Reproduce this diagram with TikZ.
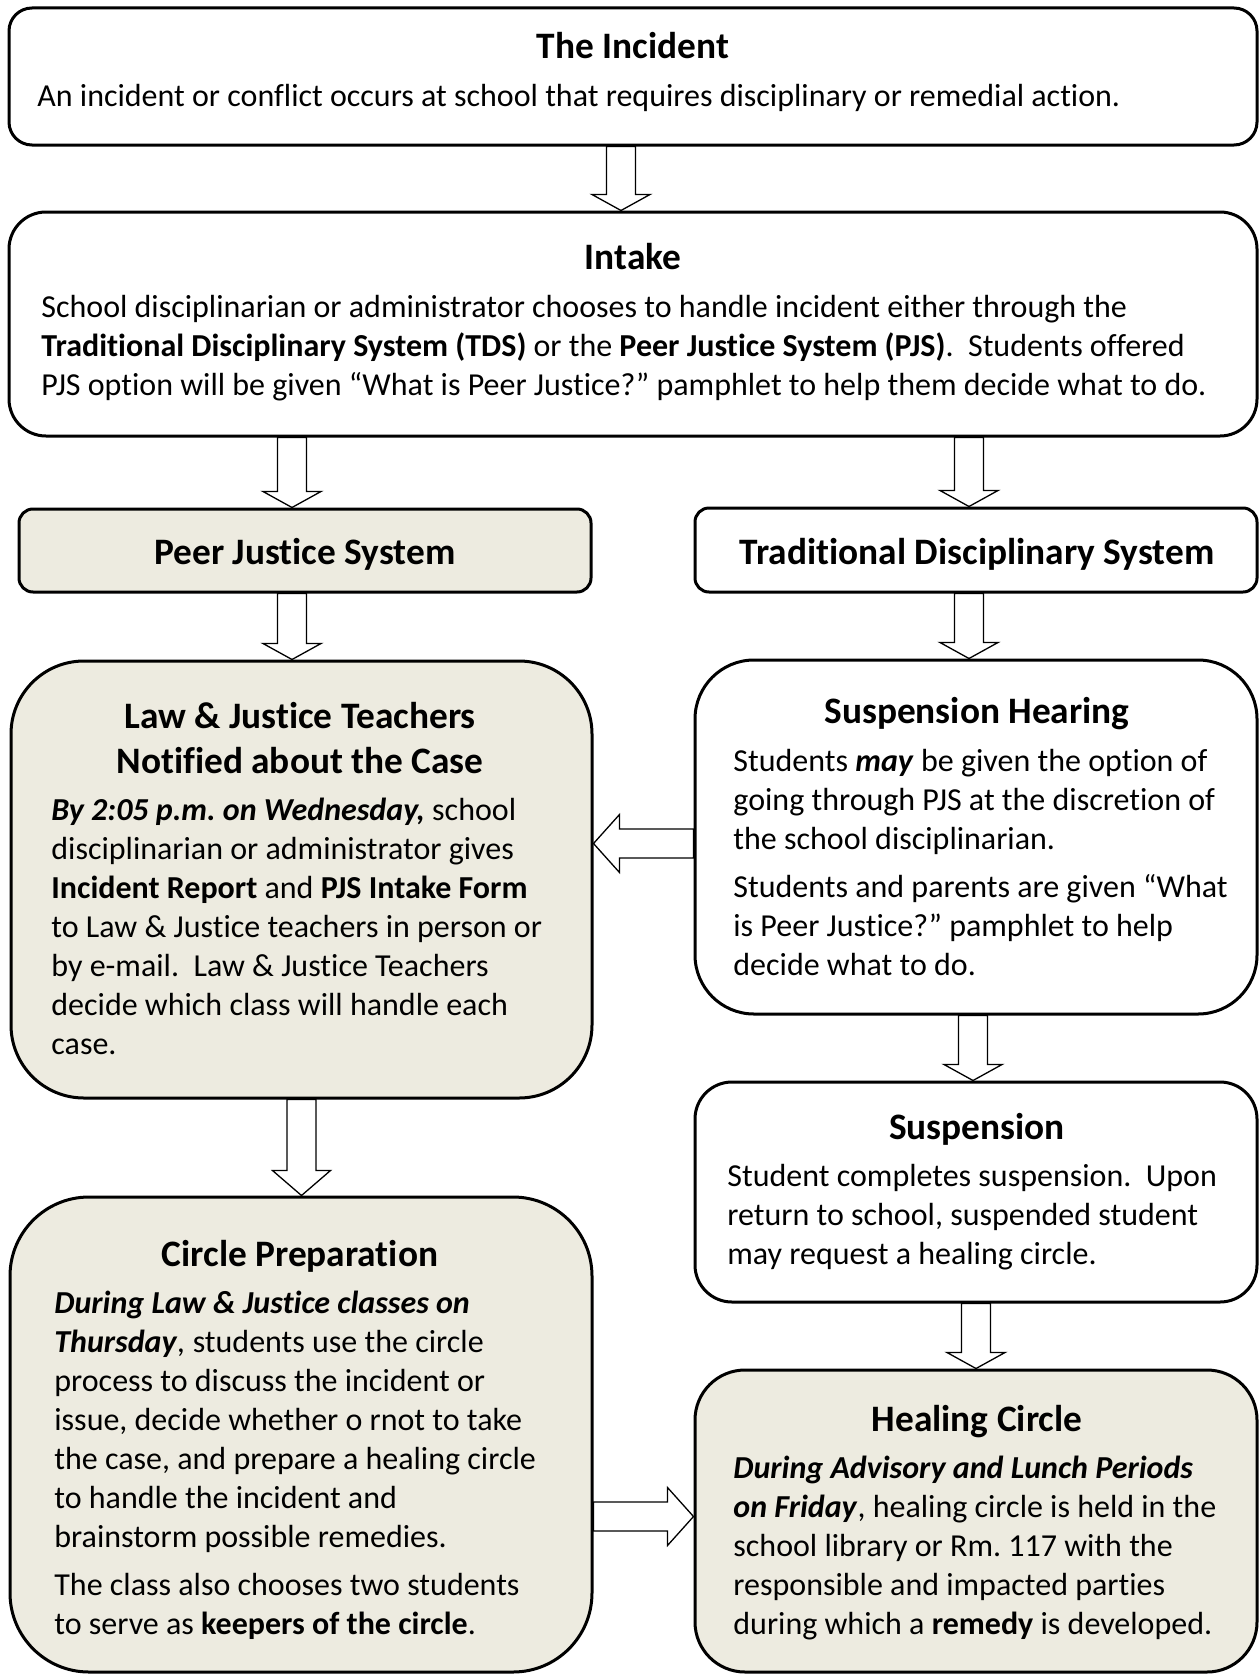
\documentclass[tikz,border=0pt]{standalone}
\usepackage{fontspec}
\setmainfont{Carlito}[Ligatures=CommonOff]
\frenchspacing
\usetikzlibrary{calc,backgrounds}
\definecolor{paper}{RGB}{237,235,224}
\newcommand{\calibrispace}{\spaceskip=0.226em plus 0.1em minus 0.05em\relax\xspaceskip=\spaceskip}

\begin{document}
\begin{tikzpicture}[x=0.5pt,y=-0.5pt]
	\tikzstyle{box}=[draw,line width=1.5pt,inner sep=0pt]
	\tikzstyle{pjsbox}=[box,fill=paper]
	\tikzstyle{head}=[font=\fontsize{18.67}{22.8}\selectfont\bfseries,inner sep=0pt,anchor=base]
	\tikzstyle{body}=[font=\fontsize{16}{19.5}\selectfont,inner sep=0pt,anchor=base west,text width=268pt,execute at begin node={\raggedright\calibrispace}]
	\tikzset{fat/.style={draw,fill=white,line width=0.65pt,to path={
		($(\tikztostart)!7.25pt!90:(\tikztotarget)$) --
		($(\tikztotarget)!#1!(\tikztostart)!7.25pt!-90:(\tikztostart)$) --
		($(\tikztotarget)!#1!(\tikztostart)!14.5pt!-90:(\tikztostart)$) --
		(\tikztotarget) --
		($(\tikztotarget)!#1!(\tikztostart)!14.5pt!90:(\tikztostart)$) --
		($(\tikztotarget)!#1!(\tikztostart)!7.25pt!90:(\tikztostart)$) --
		($(\tikztostart)!7.25pt!-90:(\tikztotarget)$) -- cycle}},fat/.default=8pt}
	\useasboundingbox (0,0) rectangle (1258,1675);

	% boxes
	\node[box,minimum width=624pt,minimum height=68.5pt,rounded corners=11.5pt] (incident) at (633,76.5) {};
	\node[box,minimum width=624pt,minimum height=112pt,rounded corners=18.5pt] (intake) at (633,324) {};
	\node[pjsbox,minimum width=286pt,minimum height=41.5pt,rounded corners=7pt] (pjs) at (305,550.5) {};
	\node[box,minimum width=281pt,minimum height=42pt,rounded corners=7pt] (tds) at (976,550) {};
	\node[pjsbox,minimum width=290.5pt,minimum height=218.5pt,rounded corners=36.5pt] (law) at (301.5,879.5) {};
	\node[box,minimum width=281pt,minimum height=177pt,rounded corners=29.5pt] (sh) at (976,837) {};
	\node[box,minimum width=281pt,minimum height=110pt,rounded corners=18.5pt] (susp) at (976,1192) {};
	\node[pjsbox,minimum width=291pt,minimum height=237.5pt,rounded corners=39.5pt] (prep) at (301,1434.5) {};
	\node[pjsbox,minimum width=281pt,minimum height=151pt,rounded corners=25pt] (healing) at (976,1521) {};

	% texts
	\node[head] (incident-t) at (633,59) {The Incident};
	\node[body,text width=600pt] (incident-b) at (37,107) {An incident or conflict occurs at school that requires disciplinary or remedial action.};
	\node[head] (intake-t) at (633,269) {Intake};
	\node[body,text width=600pt] (intake-b) at (41,317) {School disciplinarian or administrator chooses to handle incident either through the\\
		\textbf{Traditional Disciplinary System (TDS)} or the \textbf{Peer Justice System (PJS)}.~~Students offered\\
		PJS option will be given “What is Peer Justice?” pamphlet to help them decide what to do.};
	\node[head] (pjs-t) at (305,564) {Peer Justice System};
	\node[head] (tds-t) at (977,564) {Traditional Disciplinary System};
	\node[head,text width=280pt,execute at begin node={\centering\calibrispace}] (law-t) at (300,728) {Law \& Justice Teachers\\Notified about the Case};
	\node[body] (law-b) at (51,820) {\textbf{\textit{By 2:05 p.m. on Wednesday,}} school\\
		disciplinarian or administrator gives\\
		\textbf{Incident Report} and \textbf{PJS Intake Form}\\
		to Law \& Justice teachers in person or\\
		by e-mail.~~Law \& Justice Teachers\\
		decide which class will handle each\\
		case.};
	\node[head] (sh-t) at (977,723) {Suspension Hearing};
	\node[body] (sh-b) at (733,771) {Students \textbf{\textit{may}} be given the option of\\
		going through PJS at the discretion of\\
		the school disciplinarian.\\[4.5pt]
		Students and parents are given “What\\
		is Peer Justice?” pamphlet to help\\
		decide what to do.};
	\node[head] (susp-t) at (977,1139) {Suspension};
	\node[body] (susp-b) at (727,1186) {Student completes suspension.~~Upon\\
		return to school, suspended student\\
		may request a healing circle.};
	\node[head] (prep-t) at (300,1266) {Circle Preparation};
	\node[body] (prep-b) at (54,1313) {\textbf{\textit{During Law \& Justice classes on}}\\
		\textbf{\textit{Thursday}}\textit{,} students use the circle\\
		process to discuss the incident or\\
		issue, decide whether o rnot to take\\
		the case, and prepare a healing circle\\
		to handle the incident and\\
		brainstorm possible remedies.\\[4.5pt]
		The class also chooses two students\\
		to serve as \textbf{keepers of the circle}.};
	\node[head] (healing-t) at (977,1431) {Healing Circle};
	\node[body] (healing-b) at (733,1478) {\textbf{\textit{During Advisory and Lunch Periods}}\\
		\textbf{\textit{on Friday}}, healing circle is held in the\\
		school library or Rm. 117 with the\\
		responsible and impacted parties\\
		during which a \textbf{remedy} is developed.};

	% arrows
	\coordinate (pjsin) at ([xshift=-6.5pt]pjs.north);
	\coordinate (tdsin) at ([xshift=-3.5pt]tds.north);
	\coordinate (lawin) at ([xshift=-4.75pt]law.north);
	\coordinate (shout) at ([yshift=-3.25pt]sh.west);
	\coordinate (healin) at ([yshift=2.25pt]healing.west);
	\begin{scope}[on background layer]
		\draw[fat] ([xshift=-6pt]incident.south) to ([xshift=-6pt]intake.north);
		\draw[fat] (intake.south -| pjsin) to (pjsin);
		\draw[fat] (intake.south -| tdsin) to (tdsin);
		\draw[fat] (pjs.south -| lawin) to (lawin);
		\draw[fat] (tds.south -| tdsin) to (tdsin |- sh.north);
		\draw[fat] ([xshift=-1.5pt]sh.south) to ([xshift=-1.5pt]susp.north);
		\draw[fat=12.5pt] (law.south) to (law.south |- prep.north);
		\draw[fat] (susp.south) to (healing.north);
		\draw[fat=13pt] (shout) to (shout -| law.east);
		\draw[fat=13pt] (healin -| prep.east) to (healin);
	\end{scope}
\end{tikzpicture}
\end{document}
